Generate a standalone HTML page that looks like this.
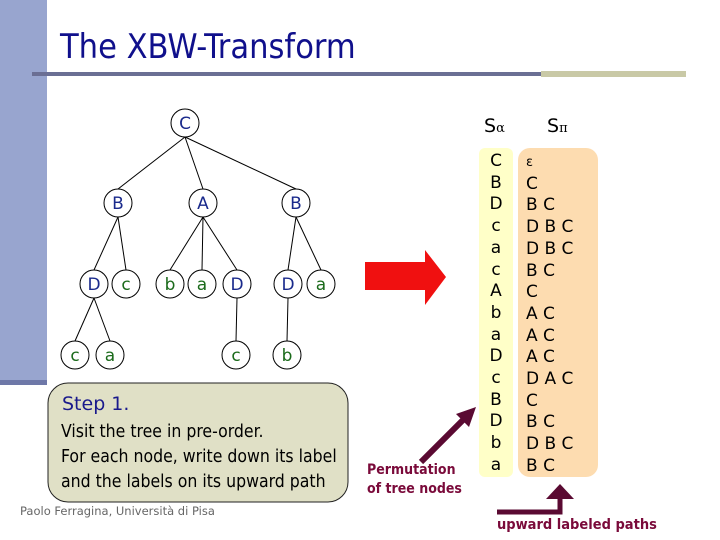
<!DOCTYPE html>
<html><head><meta charset="utf-8"><style>
body{margin:0;width:720px;height:540px;overflow:hidden;background:#fff;position:relative;font-family:"DejaVu Sans","Liberation Sans",sans-serif}
.a{position:absolute}
</style></head><body>
<div class="a" style="left:0;top:0;width:47px;height:380px;background:#98a5cf"></div>
<div class="a" style="left:0;top:380px;width:47px;height:5px;background:#6e78a8"></div>
<div class="a" style="left:60px;top:27px;font-size:34px;color:#10108c;font-family:'DejaVu Sans Condensed','DejaVu Sans',sans-serif">The XBW-Transform</div>
<div class="a" style="left:32px;top:72px;width:510px;height:4px;background:#6b6f94"></div>
<div class="a" style="left:541px;top:71px;width:145px;height:6px;background:#c9c9a6"></div>
<svg class="a" style="left:0;top:0" width="720" height="540">
<g stroke="#000" stroke-width="1">
<line x1="185" y1="137" x2="118" y2="189"/><line x1="185" y1="137" x2="203" y2="189"/><line x1="185" y1="137" x2="296" y2="189"/>
<line x1="118" y1="217" x2="94" y2="270"/><line x1="118" y1="217" x2="126" y2="270"/>
<line x1="203" y1="217" x2="170" y2="270"/><line x1="203" y1="217" x2="202" y2="270"/><line x1="203" y1="217" x2="237" y2="270"/>
<line x1="296" y1="217" x2="288" y2="270"/><line x1="296" y1="217" x2="321" y2="270"/>
<line x1="94" y1="298" x2="75" y2="341"/><line x1="94" y1="298" x2="110" y2="341"/>
<line x1="237" y1="298" x2="236" y2="341"/><line x1="288" y1="298" x2="287" y2="341"/>
</g>
<g fill="#fff" stroke="#000" stroke-width="1">
<circle cx="185" cy="123" r="14"/><circle cx="118" cy="203" r="14"/><circle cx="203" cy="203" r="14"/><circle cx="296" cy="203" r="14"/>
<circle cx="94" cy="284" r="14"/><circle cx="126" cy="284" r="14"/><circle cx="170" cy="284" r="14"/><circle cx="202" cy="284" r="14"/><circle cx="237" cy="284" r="14"/><circle cx="288" cy="284" r="14"/><circle cx="321" cy="284" r="14"/>
<circle cx="75" cy="355" r="14"/><circle cx="110" cy="355" r="14"/><circle cx="236" cy="355" r="14"/><circle cx="287" cy="355" r="14"/>
</g>
<g font-size="17" text-anchor="middle" font-family="DejaVu Sans,sans-serif">
<g fill="#1a2a8c"><text x="185" y="129">C</text><text x="118" y="209">B</text><text x="203" y="209">A</text><text x="296" y="209">B</text><text x="94" y="290">D</text><text x="237" y="290">D</text><text x="288" y="290">D</text></g>
<g fill="#1a6a1a"><text x="126" y="290">c</text><text x="170" y="290">b</text><text x="202" y="290">a</text><text x="321" y="290">a</text><text x="75" y="361">c</text><text x="110" y="361">a</text><text x="236" y="361">c</text><text x="287" y="361">b</text></g>
</g>
<rect x="48" y="383" width="300" height="119" rx="20" fill="#e0e0c6" stroke="#222" stroke-width="1"/>
<polygon points="365,262 425,262 425,250 446,277 425,305 425,290 365,290" fill="#f01010"/>
<rect x="479" y="148" width="34" height="329" rx="6" fill="#ffffc8"/>
<rect x="518" y="148" width="80" height="329" rx="12" fill="#fddcb0"/>
<line x1="421" y1="462" x2="466" y2="417" stroke="#5a0a32" stroke-width="6"/>
<polygon points="476,407 456,414 469,427" fill="#5a0a32"/>
<polyline points="497,512 560,512 560,497" fill="none" stroke="#5a0a32" stroke-width="5"/>
<polygon points="546,499 574,499 560,484" fill="#5a0a32"/>
</svg>
<div class="a" style="left:62px;top:393px;font-size:19px;color:#1a1a8c;font-family:'DejaVu Sans',sans-serif">Step 1.</div>
<div class="a" style="left:61px;top:420px;font-size:17.5px;line-height:25px;color:#000;font-family:'DejaVu Sans Condensed','DejaVu Sans',sans-serif">Visit the tree in pre-order.<br>For each node, write down its label<br>and the labels on its upward path</div>
<div class="a" style="left:20px;top:504px;font-size:11.5px;color:#666">Paolo Ferragina, Università di Pisa</div>
<div class="a" style="left:484px;top:115px;font-size:19px">S<span style="font-size:13px;font-family:'DejaVu Serif',serif">α</span></div>
<div class="a" style="left:547px;top:115px;font-size:19px">S<span style="font-size:13px;font-family:'DejaVu Serif',serif">π</span></div>
<div class="a" style="left:479px;top:151px;width:34px;text-align:center;font-size:17px;line-height:21.7px">C<br>B<br>D<br>c<br>a<br>c<br>A<br>b<br>a<br>D<br>c<br>B<br>D<br>b<br>a</div>
<div class="a" style="left:526px;top:151px;font-size:17px;line-height:21.7px;white-space:pre"><span style="font-size:13px">ε</span>
C
B C
D B C
D B C
B C
C
A C
A C
A C
D A C
C
B C
D B C
B C</div>
<div class="a" style="left:367px;top:461px;font-size:14px;font-weight:bold;line-height:19px;color:#7a0a3a;font-family:'DejaVu Sans Condensed','DejaVu Sans',sans-serif">Permutation<br>of tree nodes</div>
<div class="a" style="left:497px;top:517px;font-size:14.5px;font-weight:bold;color:#7a0a3a;font-family:'DejaVu Sans Condensed','DejaVu Sans',sans-serif">upward labeled paths</div>
</body></html>
